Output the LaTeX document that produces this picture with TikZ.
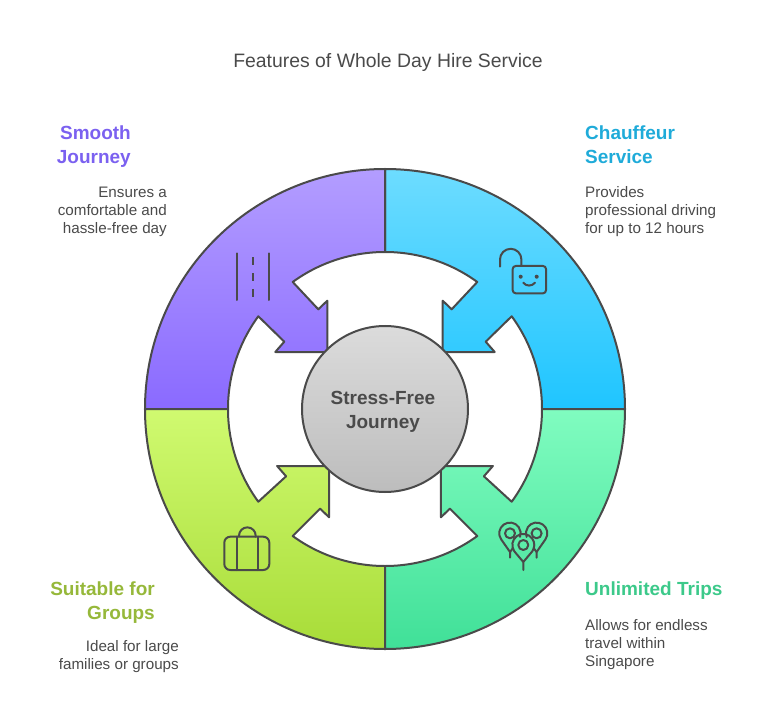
\documentclass[tikz,border=0pt]{standalone}
\usepackage{fontspec}
\setmainfont{Liberation Sans}
\definecolor{ink}{HTML}{4A4A4A}
\definecolor{smoothc}{HTML}{7B61F0}
\definecolor{chaufc}{HTML}{1FABD9}
\definecolor{groupc}{HTML}{96B83A}
\definecolor{tripc}{HTML}{3CC98A}
\tikzset{
  seg/.style={draw=ink,line width=2pt,line join=round},
  icon/.style={draw=ink,line width=2pt,line cap=round,line join=round},
  head/.style={font=\fontsize{19}{24}\selectfont\bfseries,inner sep=0pt},
  desc/.style={font=\fontsize{15.2}{18}\selectfont,text=ink,inner sep=0pt},
}
\begin{document}
\begin{tikzpicture}[x=1pt,y=1pt]
\useasboundingbox (-385,-314) rectangle (391,409);
\node[font=\fontsize{19.4}{22}\selectfont,text=ink] (title) at (3,347) {Features of Whole Day Hire Service};
% ring segments
\foreach \sx/\sy/\d/\ctop/\cbot in {1/1/0/6DDCFF/1FC5FF,-1/1/0/B39DFF/8A6AFF,-1/-1/-1.8/D0FA70/A8DC38,1/-1/-1.8/80FCC0/40E098}{
\definecolor{ctop}{HTML}{\ctop}
\definecolor{cbot}{HTML}{\cbot}
\begin{scope}[xscale=\sx,yscale=\sy]
\draw[seg,top color=ctop,bottom color=cbot] (0,240) arc (90:0:240) -- (157,0) arc (0:36.2:157)
 -- (100.7+\d,67.3) -- (109.7+\d,57) -- (57.7+\d,57) -- (57.7+\d,108.3) -- (66.7+\d,99.7) -- (54:157) arc (54:90:157) -- cycle;
\end{scope}
}
\node[circle,draw=ink,line width=2pt,minimum size=166pt,inner sep=0pt,top color=black!14,bottom color=black!26] (hub) at (0,0) {};
\node[align=center,font=\fontsize{19}{24}\selectfont\bfseries,text=ink,inner sep=0pt] (hubtext) at (-2,-3) {Stress-Free\\Journey};
% road
\draw[icon] (-148.3,155.7) -- (-148.3,109);
\draw[icon] (-116,155.7) -- (-116,109);
\foreach \y in {151.7,135.7,120} \draw[icon,line cap=butt] (-132,\y) -- (-132,\y-7.6);
% lock
\draw[icon,rounded corners=3pt] (127.7,143) rectangle (161,115.7);
\draw[icon] (115,142.3) -- (115,149.5) arc (180:0:10.7) -- (136.4,143);
\fill[ink] (135.7,132.3) circle (2);
\fill[ink] (151.7,132.3) circle (2);
\draw[icon] (138.3,126.3) .. controls (141,122.5) and (147,122.5) .. (150,126.3);
% case
\draw[icon,rounded corners=6pt] (-160.7,-127.7) rectangle (-115.7,-161);
\draw[icon] (-148.3,-127.7) -- (-148.3,-161);
\draw[icon] (-127.3,-127.7) -- (-127.3,-161);
\draw[icon] (-146,-127.7) -- (-146,-126.7) arc (180:0:8.35) -- (-129.3,-127.7);
% pins
\draw[icon] (125,-148.7) -- (125,-143) -- (116.2,-130.4) arc (215:-20:10.7);
\draw[icon] (125,-143) -- (128,-139);
\draw[icon] (151.6,-148.7) -- (151.6,-143) -- (160.4,-130.4) arc (-35:200:10.7);
\draw[icon] (151.6,-143) -- (148.6,-139);
\draw[icon] (125,-124.3) circle (5);
\draw[icon] (151.6,-124.3) circle (5);
\draw[icon] (138.3,-161) -- (138.3,-153) -- (129.3,-142.3) arc (215:-35:11) -- (138.3,-153);
\draw[icon] (138.3,-136) circle (5);
% labels
\node[head,text=smoothc,anchor=north east,align=right] (smooth) at (-254,283) {Smooth\\Journey};
\node[desc,anchor=north east,align=right] (smoothd) at (-218,222.5) {Ensures a\\comfortable and\\hassle-free day};
\node[head,text=chaufc,anchor=north west,align=left] (chauf) at (200,283) {Chauffeur\\Service};
\node[desc,anchor=north west,align=left] (chaufd) at (200,222.5) {Provides\\professional driving\\for up to 12 hours};
\node[head,text=groupc,anchor=north east,align=right] (group) at (-230,-173) {Suitable for\\Groups};
\node[desc,anchor=north east,align=right] (groupd) at (-206,-231) {Ideal for large\\families or groups};
\node[head,text=tripc,anchor=north west,align=left] (trip) at (200,-173) {Unlimited Trips};
\node[desc,anchor=north west,align=left] (tripd) at (200,-210) {Allows for endless\\travel within\\Singapore};
\end{tikzpicture}
\end{document}
